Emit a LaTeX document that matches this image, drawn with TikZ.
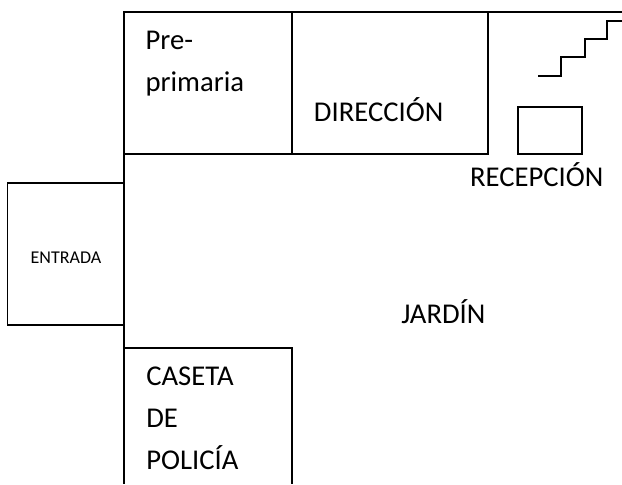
\documentclass[tikz,border=0pt]{standalone}
\usepackage{fontspec}
\setmainfont{Carlito}
\usetikzlibrary{positioning}
\tikzset{room/.style={draw,rectangle,anchor=north west,inner sep=0pt,outer sep=0pt},
	lbl/.style={font=\fontsize{21.5pt}{31.5pt}\selectfont,inner sep=0pt}}
\begin{document}
\begin{tikzpicture}[x=1pt,y=-1pt,line width=1.4pt,line cap=rect]
	\useasboundingbox (0,0) rectangle (466.5,363.75);
	% rooms
	\node[room,minimum width=126pt,minimum height=106pt] (pre) at (92.8,9.2) {};
	\node[room,minimum width=147pt,minimum height=106pt] (dir) at (218.8,9.2) {};
	\node[room,minimum width=87pt,minimum height=106.3pt] (ent) at (5.6,137.5) {};
	\node[room,minimum width=48pt,minimum height=35pt] (rec) at (388.3,80.5) {};
	% walls
	\coordinate (topend) at (466.5,9.2);
	\coordinate (casnw) at (92.8,261);
	\coordinate (casne) at (218.8,261);
	\coordinate (cassw) at (92.8,362);
	\coordinate (casse) at (218.8,362);
	\draw (dir.north east) -- (topend);
	\draw (pre.south west) -- (casnw);
	\draw (cassw) -- (casnw) -- (casne) -- (casse);
	% stairs
	\draw (404.5,56.8) -- (420.5,56.8) -- (420.5,42.8) -- (438.7,42.8) -- (438.7,29.5) -- (455,29.5) -- (455,16) -- (466.5,16);
	% labels
	\node[lbl,align=left,anchor=north west] (tpre) at (108.5,22.5) {Pre-\\primaria};
	\node[lbl] (tdir) at (284,82.5) {DIRECCIÓN};
	\node[lbl] (trec) at (402.5,131) {RECEPCIÓN};
	\node[lbl] (tjar) at (332.5,234) {JARDÍN};
	\node[font=\fontsize{13.5pt}{16pt}\selectfont,inner sep=0pt] (tent) at (49.5,193.5) {ENTRADA};
	\node[lbl,align=left,anchor=north west] (tcas) at (109,274.5) {CASETA\\DE\\POLICÍA};
\end{tikzpicture}
\end{document}
